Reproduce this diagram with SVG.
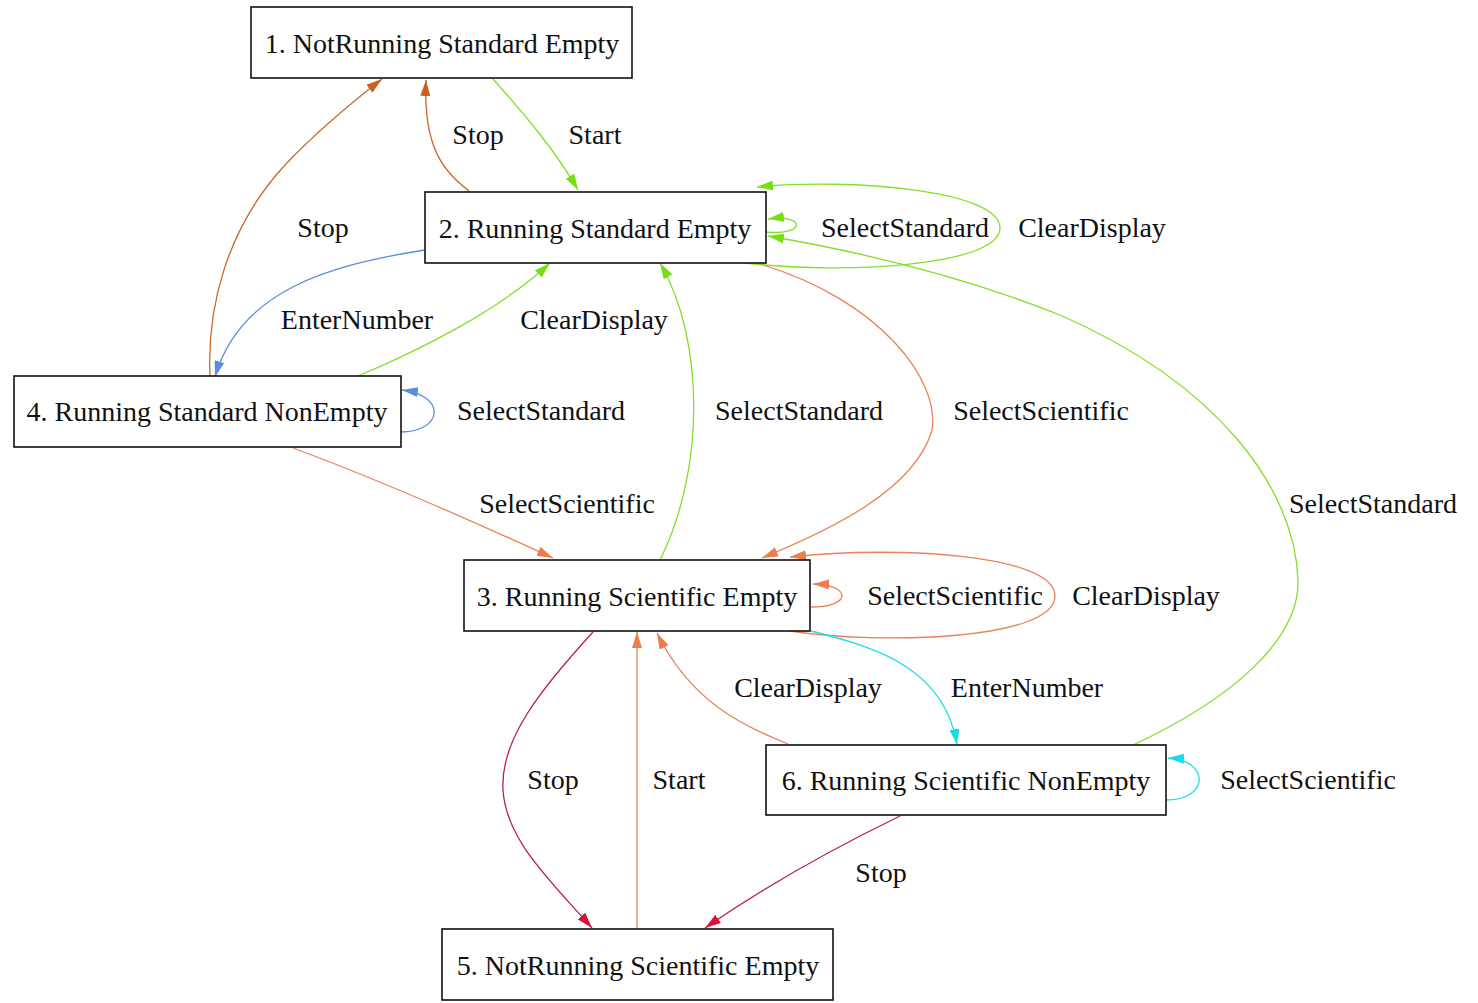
<svg xmlns="http://www.w3.org/2000/svg" width="1478" height="1003" viewBox="0 0 1478 1003">
<style>
text{font-family:"Liberation Serif","Times New Roman",serif;font-size:28px;fill:#111;text-anchor:middle}
.n rect{fill:#fff;stroke:#111;stroke-width:1.6}
.e path{fill:none;stroke-width:1.3}
.g{stroke:#82e02a}.b{stroke:#c8682c}.bl{stroke:#5a8ede}.c{stroke:#ec8258}.cy{stroke:#22dce8}.r{stroke:#b8204a}
</style>
<defs>
<marker id="mg" viewBox="0 0 16 10" refX="16" refY="5" markerWidth="16" markerHeight="10" markerUnits="userSpaceOnUse" orient="auto"><path d="M0,0L16,5L0,10z" fill="#74e014"/></marker>
<marker id="mb" viewBox="0 0 16 10" refX="16" refY="5" markerWidth="16" markerHeight="10" markerUnits="userSpaceOnUse" orient="auto"><path d="M0,0L16,5L0,10z" fill="#c8621e"/></marker>
<marker id="mbl" viewBox="0 0 16 10" refX="16" refY="5" markerWidth="16" markerHeight="10" markerUnits="userSpaceOnUse" orient="auto"><path d="M0,0L16,5L0,10z" fill="#5a8ede"/></marker>
<marker id="mc" viewBox="0 0 16 10" refX="16" refY="5" markerWidth="16" markerHeight="10" markerUnits="userSpaceOnUse" orient="auto"><path d="M0,0L16,5L0,10z" fill="#ee7c4c"/></marker>
<marker id="mcy" viewBox="0 0 16 10" refX="16" refY="5" markerWidth="16" markerHeight="10" markerUnits="userSpaceOnUse" orient="auto"><path d="M0,0L16,5L0,10z" fill="#18dcec"/></marker>
<marker id="mr" viewBox="0 0 16 10" refX="16" refY="5" markerWidth="16" markerHeight="10" markerUnits="userSpaceOnUse" orient="auto"><path d="M0,0L16,5L0,10z" fill="#d8143c"/></marker>
</defs>
<rect width="1478" height="1003" fill="#fff"/>
<g id="edges" class="e">
<path class="g" d="M493,79 C525,115 555,150 578,190" marker-end="url(#mg)"/>
<path class="b" d="M469,191 C445,172 423,150 426,80" marker-end="url(#mb)"/>
<path class="b" d="M210,376 C207,310 225,230 285,165 C318,130 355,100 382,79" marker-end="url(#mb)"/>
<path class="bl" d="M425,250 C330,265 240,290 215,377" marker-end="url(#mbl)"/>
<path class="g" d="M358,376 C420,350 500,310 550,263" marker-end="url(#mg)"/>
<path class="bl" d="M401,432 C442,432 448,396 402,390" marker-end="url(#mbl)"/>
<path class="g" d="M660,560 C705,470 705,340 660,263" marker-end="url(#mg)"/>
<path class="c" d="M760,264 C880,300 940,380 932,430 C915,490 830,530 762,558" marker-end="url(#mc)"/>
<path class="c" d="M293,448 C380,480 470,520 553,558" marker-end="url(#mc)"/>
<path class="g" d="M766,232 C806,236 806,214 768,219" marker-end="url(#mg)"/>
<path class="g" d="M745,263 C850,275 1000,265 1000,228 C1000,190 850,178 757,187" marker-end="url(#mg)"/>
<path class="g" d="M1133,745 C1230,700 1300,640 1298,580 C1295,490 1220,385 1060,315 C960,275 850,250 768,236" marker-end="url(#mg)"/>
<path class="c" d="M811,607 C852,607 852,585 813,584" marker-end="url(#mc)"/>
<path class="c" d="M790,631 C880,645 1055,640 1055,596 C1055,555 900,545 790,557" marker-end="url(#mc)"/>
<path class="cy" d="M811,631 C880,648 945,670 957,745" marker-end="url(#mcy)"/>
<path class="c" d="M788,744 C740,725 690,700 657,633" marker-end="url(#mc)"/>
<path class="r" d="M593,632 C540,690 500,740 503,790 C506,840 550,880 592,928" marker-end="url(#mr)"/>
<path class="c" d="M637,929 L637,632" marker-end="url(#mc)"/>
<path class="r" d="M900,816 C830,850 760,890 705,928" marker-end="url(#mr)"/>
<path class="cy" d="M1166,800 C1210,800 1210,760 1168,758" marker-end="url(#mcy)"/>
</g>
<g id="edge-labels">
<text x="478" y="144">Stop</text>
<text x="595" y="144">Start</text>
<text x="323" y="237">Stop</text>
<text x="905" y="237">SelectStandard</text>
<text x="1092" y="237">ClearDisplay</text>
<text x="357" y="329">EnterNumber</text>
<text x="594" y="329">ClearDisplay</text>
<text x="541" y="420">SelectStandard</text>
<text x="799" y="420">SelectStandard</text>
<text x="1041" y="420">SelectScientific</text>
<text x="567" y="513">SelectScientific</text>
<text x="1373" y="513">SelectStandard</text>
<text x="955" y="605">SelectScientific</text>
<text x="1146" y="605">ClearDisplay</text>
<text x="808" y="697">ClearDisplay</text>
<text x="1027" y="697">EnterNumber</text>
<text x="553" y="789">Stop</text>
<text x="679" y="789">Start</text>
<text x="1308" y="789">SelectScientific</text>
<text x="881" y="882">Stop</text>
</g>
<g id="n1" class="n"><rect x="251" y="7" width="381" height="71"/><text x="442" y="53">1. NotRunning Standard Empty</text></g>
<g id="n2" class="n"><rect x="425" y="192" width="341" height="71"/><text x="595" y="238">2. Running Standard Empty</text></g>
<g id="n3" class="n"><rect x="464" y="560" width="346" height="71"/><text x="637" y="606">3. Running Scientific Empty</text></g>
<g id="n4" class="n"><rect x="14" y="376" width="387" height="71"/><text x="207" y="421">4. Running Standard NonEmpty</text></g>
<g id="n5" class="n"><rect x="442" y="929" width="391" height="71"/><text x="638" y="975">5. NotRunning Scientific Empty</text></g>
<g id="n6" class="n"><rect x="766" y="745" width="400" height="70"/><text x="966" y="790">6. Running Scientific NonEmpty</text></g>
</svg>
